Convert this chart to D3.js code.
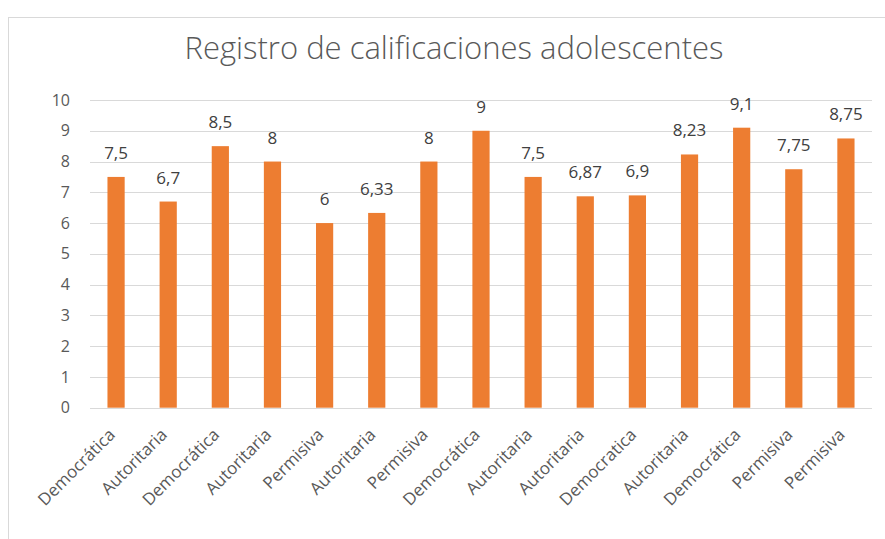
<!DOCTYPE html>
<html>
<head>
<meta charset="utf-8">
<script src="https://cdn.jsdelivr.net/npm/d3@7"></script>
<style>
  body { margin: 0; background: #fff; }
  svg { display: block; font-family: "Open Sans", "Noto Sans", sans-serif; }
</style>
</head>
<body>
<svg id="chart"></svg>
<script>
const width = 885;
const height = 539;

const categories = ["Democrática", "Autoritaria", "Democrática", "Autoritaria", "Permisiva",
    "Autoritaria", "Permisiva", "Democrática", "Autoritaria", "Autoritaria",
    "Democratica", "Autoritaria", "Democrática", "Permisiva", "Permisiva"];
const values = [7.5, 6.7, 8.5, 8, 6, 6.33, 8, 9, 7.5, 6.87, 6.9, 8.23, 9.1, 7.75, 8.75];
const yTicks = [0, 1, 2, 3, 4, 5, 6, 7, 8, 9, 10];
const title = "Registro de calificaciones adolescentes";

const margin = { top: 100, right: 13, bottom: 131, left: 90 };

const svg = d3.select("svg#chart").attr("width", width).attr("height", height);

// chart frame
svg.append("rect")
    .attr("x", 8.5).attr("y", 17.5)
    .attr("width", 1000).attr("height", 1000)
    .attr("fill", "none")
    .attr("stroke", "#D9D9D9");

svg.append("text")
    .attr("x", 454).attr("y", 59)
    .attr("text-anchor", "middle")
    .attr("font-size", 31)
    .attr("font-weight", 300)
    .attr("fill", "#595959")
    .text(title);

const x = d3.scaleBand()
    .domain(d3.range(categories.length))
    .range([margin.left, width - margin.right])
    .paddingInner(0.67)
    .paddingOuter(0.335);

const y = d3.scaleLinear()
    .domain([0, 10])
    .range([height - margin.bottom - 0.3, margin.top]);

// gridlines
svg.append("g")
    .selectAll("line")
    .data(yTicks)
    .join("line")
    .attr("x1", margin.left).attr("x2", width - margin.right)
    .attr("y1", d => Math.round(y(d)) + 0.5).attr("y2", d => Math.round(y(d)) + 0.5)
    .attr("stroke", "#D9D9D9");

// y axis labels
const yAxis = d3.axisLeft(y).tickValues(yTicks).tickSize(0).tickPadding(0);
const gy = svg.append("g")
    .attr("transform", `translate(${margin.left - 20},0)`)
    .call(yAxis);
gy.select(".domain").remove();
gy.selectAll("text")
    .attr("font-family", "'Open Sans', sans-serif")
    .attr("font-size", 16)
    .attr("fill", "#595959");

// bars
svg.append("g")
    .selectAll("rect")
    .data(values)
    .join("rect")
    .attr("x", (d, i) => x(i))
    .attr("width", x.bandwidth())
    .attr("y", d => y(d))
    .attr("height", d => y(0) - y(d))
    .attr("fill", "#ED7D31");

// data labels
svg.append("g")
    .selectAll("text")
    .data(values)
    .join("text")
    .attr("x", (d, i) => x(i) + x.bandwidth() / 2)
    .attr("y", d => y(d) - 18)
    .attr("text-anchor", "middle")
    .attr("font-size", 17)
    .attr("fill", "#404040")
    .text(d => String(d).replace(".", ","));

// x labels
svg.append("g")
    .selectAll("text")
    .data(categories)
    .join("text")
    .attr("transform", (d, i) => `translate(${x(i) + x.bandwidth() / 2},${y(0) + 28}) rotate(-45)`)
    .attr("text-anchor", "end")
    .attr("font-size", 17)
    .attr("fill", "#595959")
    .text(d => d);
</script>
</body>
</html>
